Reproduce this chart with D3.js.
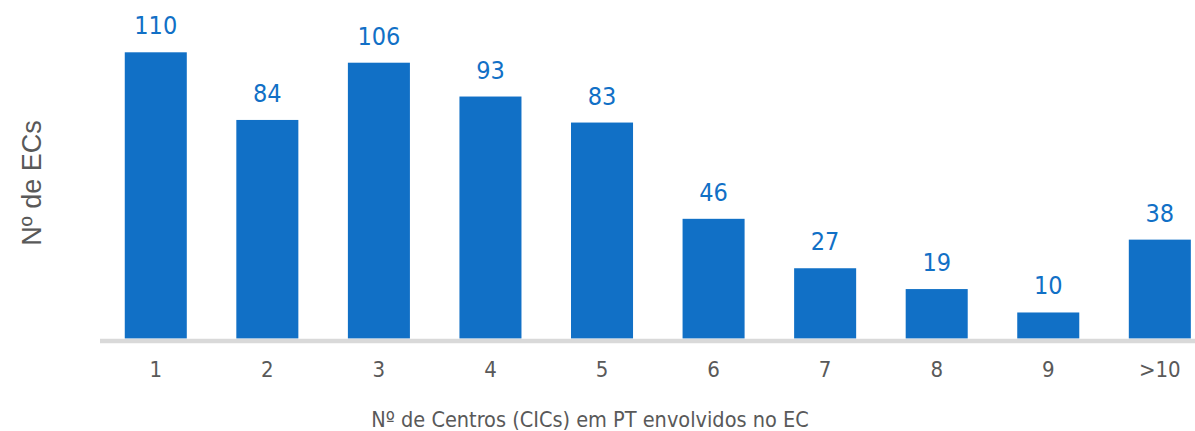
<!DOCTYPE html>
<html>
<head>
<meta charset="utf-8">
<script src="https://cdn.jsdelivr.net/npm/d3@7"></script>
<style>
  body { margin: 0; background: #fff; }
  svg { display: block; }
  .lbl { font-family: 'DejaVu Sans Condensed', 'DejaVu Sans', Verdana, sans-serif; font-stretch: condensed; }
</style>
</head>
<body>
<div id="chart"></div>
<script>
// data
var categories = ["1", "2", "3", "4", "5", "6", "7", "8", "9", ">10"]
var values = [110, 84, 106, 93, 83, 46, 27, 19, 10, 38]
var xTitle = "Nº de Centros (CICs) em PT envolvidos no EC"
var yTitle = "Nº de ECs"

var width = 1195, height = 431
var blue = "#1170C6"

var svg = d3.select("#chart").append("svg")
    .attr("width", width)
    .attr("height", height)

var x = d3.scaleBand()
    .domain(categories)
    .range([100, 1215.6])
    .paddingInner(0.444)
    .paddingOuter(0.222)

var y = d3.scaleLinear()
    .domain([0, 110])
    .range([338.5, 52.3])

// bars
svg.selectAll(".bar")
    .data(values)
    .enter()
    .append("rect")
    .attr("class", "bar")
    .attr("x", function(d, i) { return x(categories[i]) })
    .attr("width", x.bandwidth())
    .attr("y", function(d) { return y(d) })
    .attr("height", function(d) { return y(0) - y(d) })
    .attr("fill", blue)

// value labels
svg.selectAll(".val")
    .data(values)
    .enter()
    .append("text")
    .attr("class", "val lbl")
    .attr("x", function(d, i) { return x(categories[i]) + x.bandwidth() / 2 })
    .attr("y", function(d) { return y(d) - 18 })
    .attr("text-anchor", "middle")
    .style("font-size", "25px")
    .attr("fill", blue)
    .text(function(d) { return d })

// x axis baseline (gray band)
svg.append("line")
    .attr("x1", 100)
    .attr("x2", width)
    .attr("y1", 341)
    .attr("y2", 341)
    .attr("stroke", "#D9D9D9")
    .attr("stroke-width", 4.5)

// tick labels
var xAxis = d3.axisBottom(x).tickSize(0).tickPadding(0)
var gx = svg.append("g")
    .attr("transform", "translate(0,361)")
    .call(xAxis)
gx.select(".domain").remove()
gx.selectAll("text")
    .attr("class", "lbl")
    .attr("dy", "0.71em")
    .style("font-size", "22px")
    .attr("fill", "#595959")

// axis titles
svg.append("text")
    .attr("class", "lbl")
    .attr("x", 590)
    .attr("y", 426.5)
    .attr("text-anchor", "middle")
    .style("font-size", "21.5px")
    .attr("fill", "#595959")
    .text(xTitle)

svg.append("text")
    .attr("transform", "translate(41,183) rotate(-90)")
    .attr("text-anchor", "middle")
    .style("font-family", "'Liberation Sans', Arial, sans-serif")
    .style("font-size", "27px")
    .attr("fill", "#595959")
    .text(yTitle)
</script>
</body>
</html>
